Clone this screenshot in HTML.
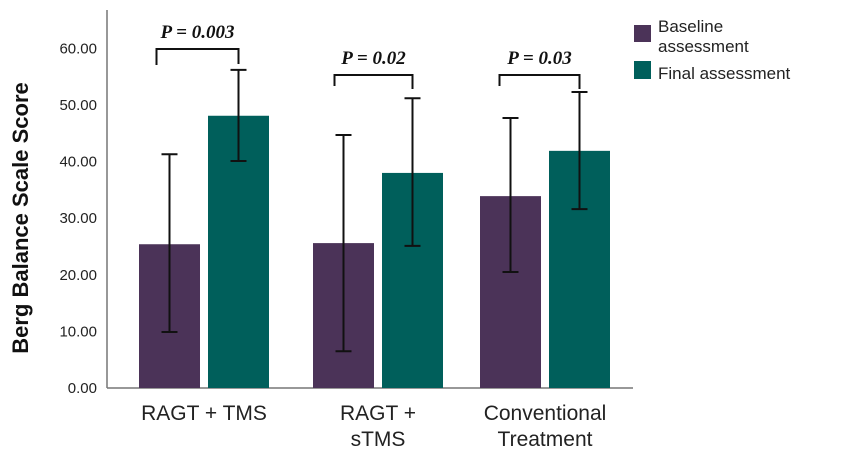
<!DOCTYPE html>
<html><head><meta charset="utf-8"><style>
body{margin:0;background:#fff;}
svg text.sans{font-family:"Liberation Sans",Arial,sans-serif;}
svg text.serif{font-family:"Liberation Serif","Times New Roman",serif;}
</style></head><body>
<svg id="chart" width="850" height="458" viewBox="0 0 850 458" xmlns="http://www.w3.org/2000/svg">
<g id="plot"></g>
</svg>
<script>
const categories = [["RAGT + TMS"],["RAGT +","sTMS"],["Conventional","Treatment"]];
const baselineMeans = [25.4, 25.6, 33.9];
const baselineLow = [9.9, 6.5, 20.5];
const baselineHigh = [41.3, 44.7, 47.7];
const finalMeans = [48.1, 38.0, 41.9];
const finalLow = [40.1, 25.1, 31.6];
const finalHigh = [56.2, 51.2, 52.3];
const yTicks = [0,10,20,30,40,50,60];
const pLabels = ["P = 0.003","P = 0.02","P = 0.03"];

const NS="http://www.w3.org/2000/svg";
const g=document.getElementById('plot');
function el(t,a,txt){const e=document.createElementNS(NS,t);for(const k in a)e.setAttribute(k,a[k]);if(txt!==undefined)e.textContent=txt;g.appendChild(e);return e;}
const y0=388, pxPer=5.66;
function y(v){return y0-v*pxPer;}
const groupLeft=[139,313,480], barW=61, gap=8;
function xb(i,s){return groupLeft[i]+s*(barW+gap);}

let e;
e=el('line',{x1:107,y1:10,x2:107,y2:388,stroke:'#777','stroke-width':1.5});


e=el('line',{x1:107,y1:388,x2:633,y2:388,stroke:'#777','stroke-width':1.5});



yTicks.forEach(t=>{
  e=el('text',{class:'sans',x:97,y:y(t)+5,'text-anchor':'end','font-size':15,fill:'#222'},t.toFixed(2));
  
  
});
e=el('text',{class:'sans',x:0,y:0,transform:'translate(28,218) rotate(-90)','text-anchor':'middle','font-size':22,'font-weight':'bold',fill:'#111'},'Berg Balance Scale Score');



const series=[[baselineMeans,baselineLow,baselineHigh,'#4b3358','baseline'],[finalMeans,finalLow,finalHigh,'#005f5b','final']];
categories.forEach((c,i)=>{
  series.forEach((s,si)=>{
    const x=xb(i,si);
    e=el('rect',{x:x,y:y(s[0][i]),width:barW,height:y0-y(s[0][i]),fill:s[3]});
    
    
    const cx=x+barW/2;
    e=el('path',{d:`M${cx},${y(s[2][i])}V${y(s[1][i])}M${cx-8},${y(s[2][i])}H${cx+8}M${cx-8},${y(s[1][i])}H${cx+8}`,stroke:'#111','stroke-width':2,fill:'none'});
    
    
  });
  const gc=groupLeft[i]+barW+gap/2;
  c.forEach((ln,li)=>{
    e=el('text',{class:'sans',x:gc,y:420+li*26,'text-anchor':'middle','font-size':21,fill:'#222'},ln);
    
    
  });
  const l=xb(i,0)+barW/2+(i==0?-13:i==1?-9:-11), r=xb(i,1)+barW/2;
  const top=(i==0?49:75), lb=(i==0?65:86), rb=(i==0?64:89);
  e=el('path',{d:`M${l},${lb}V${top}H${r}V${rb}`,stroke:'#111','stroke-width':2,fill:'none'});
  
  
  e=el('text',{class:'serif',x:(l+r)/2,y:top-11,'text-anchor':'middle','font-size':19,'font-weight':'bold','font-style':'italic',fill:'#111'},pLabels[i]);
  
  
});

e=el('rect',{x:634,y:25,width:17,height:17,fill:'#4b3358'});


e=el('text',{class:'sans',x:658,y:32,'font-size':17,fill:'#222'},'Baseline');


e=el('text',{class:'sans',x:658,y:52,'font-size':17,fill:'#222'},'assessment');


e=el('rect',{x:634,y:61,width:17,height:18,fill:'#005f5b'});


e=el('text',{class:'sans',x:658,y:79,'font-size':17,fill:'#222'},'Final assessment');


</script>
</body></html>
